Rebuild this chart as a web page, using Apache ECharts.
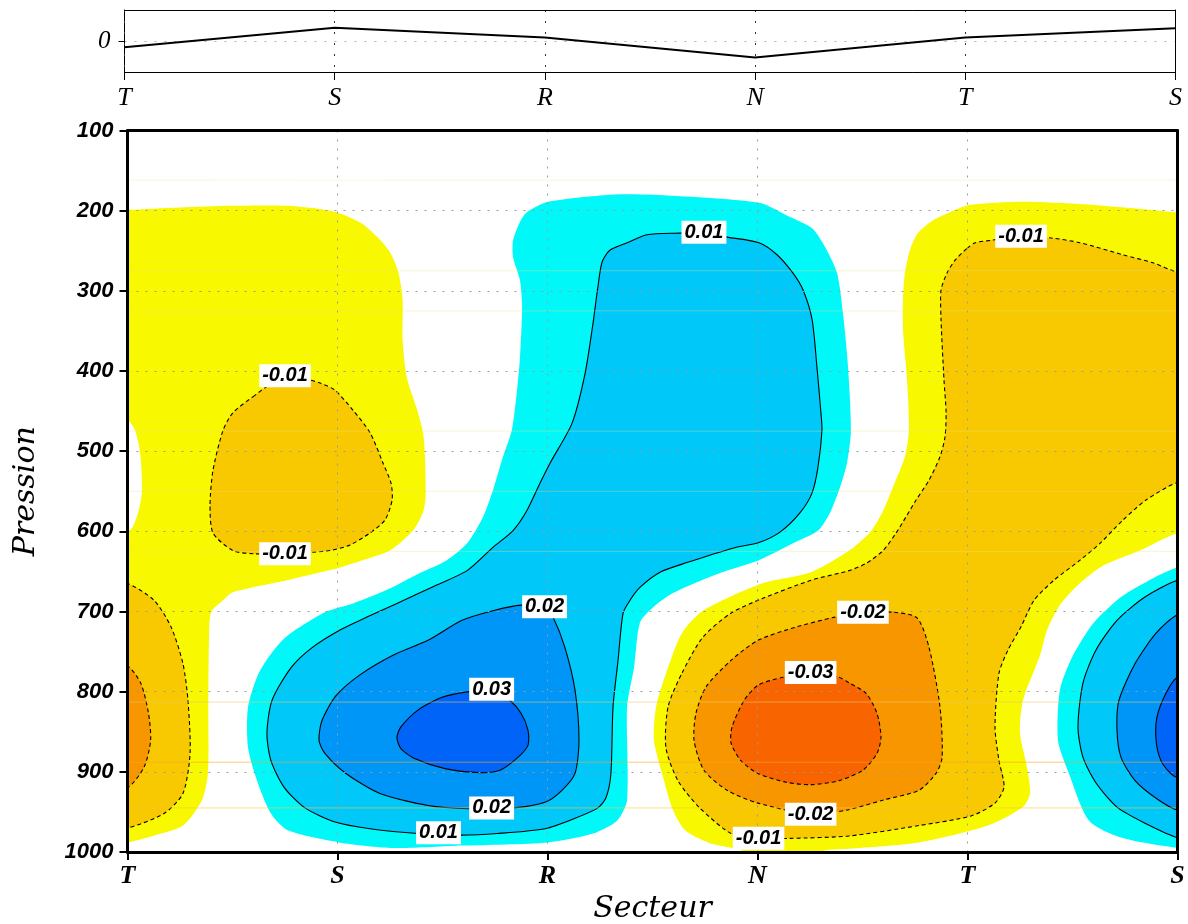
<!DOCTYPE html>
<html><head><meta charset="utf-8">
<script src="https://cdn.jsdelivr.net/npm/echarts@6/dist/echarts.min.js"></script>
<style>html,body{margin:0;padding:0;background:#fff}#c{width:1188px;height:924px}</style>
</head><body><div id="c"></div>
<script>
// ---- categories / ticks ----
const sectors = ['T','S','R','N','T','S'];
const topValues = [-0.20, 0.43, 0.11, -0.53, 0.11, 0.41];

// ---- contour regions: [sector position, pressure hPa] ----
const yellowWest = [[-0.1,199],[0,199],[0.25,196],[0.50,194],[0.76,194],[0.98,201],[1.11,215],[1.19,233],[1.25,252],[1.29,277],[1.31,311],[1.31,361],[1.33,408],[1.38,449],[1.41,482],[1.42,549],[1.41,574],[1.36,599],[1.25,624],[1.12,636],[1.0,646],[0.92,651],[0.726,663],[0.502,676],[0.455,686],[0.398,701],[0.388,736],[0.385,820],[0.383,902],[0.355,935],[0.264,967],[0.12,980],[0,988],[-0.1,990],[-0.1,599],[0.01,599],[0.05,577],[0.069,549],[0.06,502],[0.036,474],[0,461],[-0.1,461]];
const goldWestUpper = [[0.598,432],[0.693,415],[0.821,409],[0.917,415],[0.988,424],[1.074,449],[1.155,477],[1.217,515],[1.255,540],[1.26,561],[1.226,586],[1.155,602],[1.06,617],[0.964,624],[0.883,626],[0.75,628],[0.598,628],[0.502,624],[0.407,602],[0.393,567],[0.407,524],[0.455,474],[0.502,452]];
const goldWestLower = [[-0.1,665],[0,665],[0.126,686],[0.207,719],[0.264,765],[0.288,811],[0.298,877],[0.264,927],[0.174,952],[0,970],[-0.1,970]];
const orangeWest = [[-0.1,768],[0,768],[0.064,790],[0.10,827],[0.11,861],[0.079,894],[0,920],[-0.1,920]];
const cyanCentral = [[1.836,237],[1.869,214],[1.902,202],[2.002,189],[2.298,180],[2.502,180],[3.007,190],[3.155,208],[3.26,222],[3.321,245],[3.379,278],[3.407,328],[3.431,395],[3.445,474],[3.426,515],[3.393,545],[3.345,577],[3.288,599],[3.169,615],[3.007,636],[2.821,652],[2.598,677],[2.502,695],[2.44,714],[2.412,770],[2.379,819],[2.379,935],[2.331,961],[2.217,977],[2.002,988],[1.593,992],[1.269,995],[1.007,988],[0.764,973],[0.683,952],[0.617,911],[0.574,870],[0.574,819],[0.631,774],[0.745,734],[0.94,701],[1.074,690],[1.236,673],[1.393,652],[1.521,636],[1.617,615],[1.693,582],[1.74,549],[1.788,507],[1.83,474],[1.855,424],[1.869,383],[1.879,320],[1.869,287],[1.836,258]];
const blue1Central = [[2.26,264],[2.298,249],[2.379,240],[2.474,230],[2.631,228],[2.745,227],[2.855,233],[3.007,240],[3.093,255],[3.169,278],[3.217,299],[3.26,336],[3.283,395],[3.302,452],[3.307,474],[3.288,520],[3.26,552],[3.202,577],[3.107,601],[3.007,614],[2.883,621],[2.664,639],[2.536,651],[2.44,670],[2.393,686],[2.36,702],[2.336,761],[2.312,819],[2.302,902],[2.279,932],[2.24,945],[2.131,958],[1.988,971],[1.76,977],[1.593,979],[1.383,977],[1.155,971],[0.993,963],[0.845,945],[0.745,919],[0.683,886],[0.664,852],[0.688,811],[0.779,770],[0.879,745],[1.012,723],[1.14,707],[1.283,690],[1.455,669],[1.617,649],[1.74,620],[1.836,599],[1.902,574],[1.964,540],[2.012,515],[2.117,465],[2.179,403],[2.217,340],[2.24,295]];
const blue2Central = [[1.874,692],[1.74,699],[1.593,711],[1.431,736],[1.269,754],[1.107,779],[0.993,805],[0.926,836],[0.912,861],[0.94,877],[1.04,902],[1.202,927],[1.431,942],[1.626,946],[1.84,945],[1.988,938],[2.069,923],[2.131,902],[2.15,861],[2.131,798],[2.083,745],[2.026,707],[1.988,695]];
const blue3Central = [[1.626,800],[1.498,807],[1.383,823],[1.302,844],[1.283,857],[1.302,871],[1.364,883],[1.512,896],[1.679,901],[1.774,898],[1.855,883],[1.907,867],[1.907,848],[1.874,827],[1.821,811],[1.736,798]];
const yellowEast = [[3.917,202],[4.007,193],[4.264,189],[4.55,192],[4.788,197],[5.0,202],[5.1,202],[5.1,602],[5.0,602],[4.821,624],[4.645,643],[4.526,667],[4.44,692],[4.379,723],[4.345,755],[4.264,811],[4.25,852],[4.283,894],[4.298,927],[4.264,944],[4.098,967],[3.769,988],[3.436,996],[3.3,1000],[3.3,1020],[2.94,1020],[2.94,1000],[2.774,989],[2.655,973],[2.598,948],[2.555,911],[2.507,861],[2.517,819],[2.574,770],[2.64,727],[2.74,699],[3.021,665],[3.255,651],[3.436,624],[3.536,601],[3.593,577],[3.645,545],[3.702,507],[3.721,474],[3.712,411],[3.693,349],[3.693,308],[3.702,278],[3.726,249],[3.764,228],[3.836,212]];
const goldEast = [[3.998,247],[4.036,240],[4.112,237],[4.264,232],[4.398,234],[4.536,240],[4.74,255],[4.883,265],[5.0,277],[5.1,280],[5.1,540],[5.0,539],[4.85,561],[4.74,586],[4.631,615],[4.536,636],[4.412,661],[4.317,686],[4.255,719],[4.193,748],[4.15,777],[4.131,844],[4.15,886],[4.174,919],[4.131,939],[4.017,955],[3.769,967],[3.436,980],[3.155,983],[3.002,983],[2.874,977],[2.721,944],[2.621,911],[2.564,870],[2.574,819],[2.64,777],[2.74,732],[2.874,702],[3.021,684],[3.255,661],[3.436,649],[3.517,640],[3.598,624],[3.66,602],[3.707,582],[3.755,561],[3.817,536],[3.869,507],[3.893,482],[3.898,452],[3.888,411],[3.874,336],[3.874,299],[3.902,278],[3.94,262]];
const orangeEast = [[3.502,701],[3.369,707],[3.188,719],[3.002,736],[2.874,761],[2.755,794],[2.707,827],[2.698,861],[2.745,898],[2.855,923],[3.002,939],[3.255,953],[3.421,948],[3.602,935],[3.769,923],[3.85,902],[3.879,882],[3.869,819],[3.817,745],[3.76,708],[3.65,701]];
const redEast = [[3.255,776],[3.121,782],[3.002,792],[2.936,811],[2.879,844],[2.874,864],[2.921,886],[3.002,902],[3.136,913],[3.255,916],[3.388,911],[3.502,898],[3.569,877],[3.588,857],[3.569,827],[3.517,802],[3.436,789],[3.388,782]];
const cyanEdge = [[5.1,645],[5.0,645],[4.879,659],[4.731,682],[4.598,715],[4.498,757],[4.44,798],[4.431,861],[4.483,902],[4.579,961],[4.731,982],[5.0,995],[5.1,995]];
const blue1Edge = [[5.1,661],[5.0,661],[4.845,682],[4.712,711],[4.612,748],[4.55,789],[4.526,844],[4.55,882],[4.612,914],[4.712,944],[4.845,964],[5.0,982],[5.1,982]];
const blue2Edge = [[5.1,704],[5.0,704],[4.898,727],[4.798,765],[4.721,811],[4.712,848],[4.731,882],[4.798,911],[4.898,933],[5.0,948],[5.1,948]];
const blue3Edge = [[5.1,782],[5.0,782],[4.945,802],[4.902,832],[4.898,861],[4.921,886],[4.964,901],[5.0,907],[5.1,907]];

const contourLabels = [[0.75,406,'-0.01'],[0.75,628,'-0.01'],[2.745,227,'0.01'],[4.255,232,'-0.01'],[1.986,694,'0.02'],[3.502,701,'-0.02'],[3.253,776,'-0.03'],[1.734,797,'0.03'],[1.734,945,'0.02'],[3.253,953,'-0.02'],[1.481,976,'0.01'],[3.005,983,'-0.01']];

// faint shading seams visible across the field (pressure levels)
const seamLevels = [162, 275, 325, 475, 550, 625, 813, 888, 945];
const seamColors = ['rgba(240,225,130,0.30)','rgba(240,225,130,0.35)','rgba(240,225,130,0.35)','rgba(240,225,130,0.35)','rgba(240,225,130,0.35)','rgba(240,225,130,0.35)','rgba(235,200,110,0.55)','rgba(250,165,40,0.6)','rgba(250,200,60,0.6)'];

// ---- colours per shading level ----
const C = {y:'#f8f800', g:'#f8c800', o:'#f89600', r:'#f86400', c:'#00f8f8', b1:'#00c8f8', b2:'#0096f8', b3:'#0064f8'};
const fills = [
  {pts: yellowWest, color: C.y},
  {pts: goldWestUpper, color: C.g, dash: true},
  {pts: goldWestLower, color: C.g, dash: true},
  {pts: orangeWest, color: C.o, dash: true},
  {pts: cyanCentral, color: C.c},
  {pts: blue1Central, color: C.b1, line: true},
  {pts: blue2Central, color: C.b2, line: true},
  {pts: blue3Central, color: C.b3, line: true},
  {pts: yellowEast, color: C.y},
  {pts: goldEast, color: C.g, dash: true},
  {pts: orangeEast, color: C.o, dash: true},
  {pts: redEast, color: C.r, dash: true},
  {pts: cyanEdge, color: C.c},
  {pts: blue1Edge, color: C.b1, line: true},
  {pts: blue2Edge, color: C.b2, line: true},
  {pts: blue3Edge, color: C.b3, line: true}
];

const chart = echarts.init(document.getElementById('c'), null, {renderer: 'canvas'});
const dotted = {color: '#9a9a9a', type: [2, 7], width: 1};
const frameOnly = {axisTick: {show: false}, axisLabel: {show: false}, splitLine: {show: false}};
const option = {
  animation: false,
  backgroundColor: '#fff',
  grid: [
    {left: 127.5, right: 10.5, top: 130.5, bottom: 72, outerBoundsMode: 'none'},
    {left: 124.5, right: 12.5, top: 10, height: 62, outerBoundsMode: 'none'}
  ],
  xAxis: [
    {gridIndex: 0, type: 'value', min: 0, max: 5, interval: 1, z: 3,
     axisLine: {show: true, onZero: false, lineStyle: {color: '#000', width: 3}},
     axisTick: {show: true, inside: false, length: 8, lineStyle: {color: '#000', width: 2}},
     axisLabel: {margin: 11, color: '#000', fontFamily: 'Liberation Serif', fontStyle: 'italic', fontWeight: 'bold', fontSize: 26,
                 formatter: v => sectors[Math.round(v)]},
     splitLine: {show: true, lineStyle: dotted},
     name: 'Secteur', nameLocation: 'middle', nameGap: 40,
     nameTextStyle: {color: '#000', fontFamily: 'DejaVu Serif', fontStyle: 'italic', fontSize: 30}},
    {gridIndex: 1, type: 'category', boundaryGap: false, data: sectors, z: 5,
     axisLine: {show: true, onZero: false, lineStyle: {color: '#000', width: 1}},
     axisTick: {show: true, inside: false, length: 8, lineStyle: {color: '#000', width: 1}},
     axisLabel: {margin: 13, color: '#000', fontFamily: 'Liberation Serif', fontStyle: 'italic', fontSize: 26, interval: 0},
     splitLine: {show: true, interval: 0, lineStyle: {color: '#333', type: [2, 9], width: 1}}},
    Object.assign({gridIndex: 0, type: 'value', min: 0, max: 5, interval: 1, position: 'top', z: 3,
     axisLine: {show: true, onZero: false, lineStyle: {color: '#000', width: 3}}}, frameOnly),
    Object.assign({gridIndex: 1, type: 'category', boundaryGap: false, data: sectors, position: 'top', z: 5,
     axisLine: {show: true, onZero: false, lineStyle: {color: '#000', width: 1}}}, frameOnly)
  ],
  yAxis: [
    {gridIndex: 0, type: 'value', inverse: true, min: 100, max: 1000, interval: 100, z: 3,
     axisLine: {show: true, onZero: false, lineStyle: {color: '#000', width: 3}},
     axisTick: {show: true, inside: false, length: 8, lineStyle: {color: '#000', width: 2}},
     axisLabel: {margin: 14, color: '#000', fontFamily: 'Liberation Sans', fontStyle: 'italic', fontWeight: 'bold', fontSize: 22,
                 formatter: v => String(v)},
     splitLine: {show: true, lineStyle: dotted},
     name: 'Pression', nameLocation: 'middle', nameGap: 86, nameRotate: 90,
     nameTextStyle: {color: '#000', fontFamily: 'DejaVu Serif', fontStyle: 'italic', fontSize: 30}},
    {gridIndex: 1, type: 'value', min: -1, max: 1, interval: 1, z: 3,
     axisLine: {show: true, onZero: false, lineStyle: {color: '#000', width: 1}},
     axisTick: {show: true, inside: false, length: 6, customValues: [0], lineStyle: {color: '#000'}},
     axisLabel: {margin: 14, customValues: [0], color: '#000', fontFamily: 'Liberation Serif', fontStyle: 'italic', fontSize: 25,
                 formatter: v => (v === 0 ? '0' : '')},
     splitLine: {show: true, lineStyle: {color: '#b0b0b0', type: [2, 8], width: 1}}},
    Object.assign({gridIndex: 0, type: 'value', inverse: true, min: 100, max: 1000, interval: 100, position: 'right', z: 3,
     axisLine: {show: true, onZero: false, lineStyle: {color: '#000', width: 3}}}, frameOnly),
    Object.assign({gridIndex: 1, type: 'value', min: -1, max: 1, interval: 1, position: 'right', z: 5,
     axisLine: {show: true, onZero: false, lineStyle: {color: '#000', width: 1}}}, frameOnly)
  ],
  series: [
    {
      type: 'custom', coordinateSystem: 'cartesian2d', xAxisIndex: 0, yAxisIndex: 0, clip: true, z: 2,
      data: fills.map(f => f.pts[0]),
      renderItem: function (params, api) {
        const f = fills[params.dataIndex];
        const pts = f.pts.map(p => api.coord(p));
        const hasLine = f.line || f.dash;
        return {
          type: 'polygon', z2: params.dataIndex,
          shape: {points: pts, smooth: 0.25},
          style: {fill: f.color, stroke: hasLine ? '#000' : 'none', lineWidth: 1.1, lineDash: f.dash ? [4, 3] : null}
        };
      }
    },
    {
      type: 'custom', coordinateSystem: 'cartesian2d', xAxisIndex: 0, yAxisIndex: 0, clip: true, z: 2.5, silent: true,
      data: seamLevels.map(p => [0, p]),
      renderItem: function (params, api) {
        const p = seamLevels[params.dataIndex];
        const a = api.coord([0, p]), b = api.coord([5, p]);
        return {type: 'line', shape: {x1: a[0], y1: a[1], x2: b[0], y2: b[1]},
                style: {stroke: seamColors[params.dataIndex], lineWidth: 1}};
      }
    },
    {
      type: 'custom', coordinateSystem: 'cartesian2d', xAxisIndex: 0, yAxisIndex: 0, z: 6,
      data: contourLabels.map(l => [l[0], l[1]]),
      renderItem: function (params, api) {
        const l = contourLabels[params.dataIndex];
        const c = api.coord([l[0], l[1]]);
        return {
          type: 'text', x: c[0], y: c[1], z2: 100,
          style: {text: l[2], fill: '#000', align: 'center', verticalAlign: 'middle',
                  font: 'italic bold 20px "Liberation Sans"', backgroundColor: '#fff', padding: [2, 3, 1, 3]}
        };
      }
    },
    {
      type: 'line', xAxisIndex: 1, yAxisIndex: 1, data: topValues, symbol: 'none',
      lineStyle: {color: '#000', width: 2}, z: 4
    }
  ]
};
chart.setOption(option);
</script></body></html>
